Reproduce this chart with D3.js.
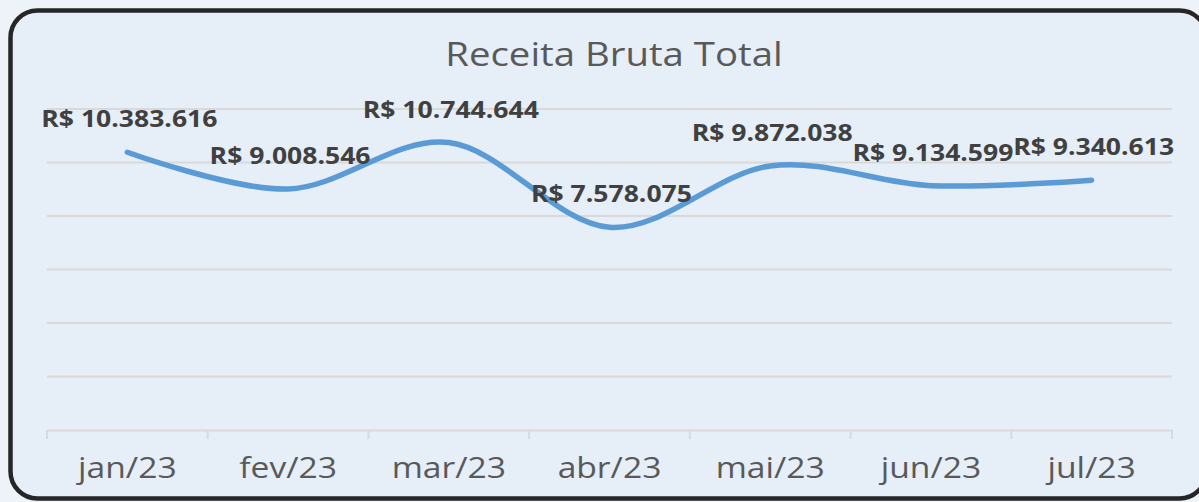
<!DOCTYPE html>
<html>
<head>
<meta charset="utf-8">
<script src="https://cdn.jsdelivr.net/npm/d3@7"></script>
<style>
  html, body { margin: 0; padding: 0; background: #eef3fa; }
  svg { display: block; }
</style>
</head>
<body>
<svg id="chart" width="1199" height="502"></svg>
<script>
const title = "Receita Bruta Total";
const categories = ["jan/23", "fev/23", "mar/23", "abr/23", "mai/23", "jun/23", "jul/23"];
const values = [10383616, 9008546, 10744644, 7578075, 9872038, 9134599, 9340613];
const yTicks = [0, 2000000, 4000000, 6000000, 8000000, 10000000, 12000000];

const W = 1199, H = 502;
const svg = d3.select("#chart");
const SX = 1.18;

// card
svg.append("rect")
  .attr("x", 10.5).attr("y", 10.5)
  .attr("width", 1196).attr("height", 488)
  .attr("rx", 27).attr("ry", 27)
  .attr("fill", "#e6eef8")
  .attr("stroke", "#262626")
  .attr("stroke-width", 4.5);

const x = d3.scaleBand().domain(categories).range([47, 1172]).padding(0);
const y = d3.scaleLinear().domain([0, 12000000]).range([430, 109]);

// gridlines
svg.append("g").selectAll("line")
  .data(yTicks.filter(d => d > 0))
  .join("line")
  .attr("x1", 47).attr("x2", 1172)
  .attr("y1", d => y(d)).attr("y2", d => y(d))
  .attr("stroke", "#d9d9d9").attr("stroke-width", 2);

// x axis
const xAxis = svg.append("g")
  .attr("transform", `translate(0,${y(0)})`)
  .call(d3.axisBottom(x).tickSize(0).tickFormat(""));
xAxis.select(".domain").attr("stroke", "#d9d9d9").attr("stroke-width", 2);
const bounds = categories.map(c => x(c)).concat([x(categories[categories.length - 1]) + x.bandwidth()]);
xAxis.selectAll(".btick").data(bounds).join("line")
  .attr("class", "btick")
  .attr("x1", d => d).attr("x2", d => d)
  .attr("y1", 0).attr("y2", 9)
  .attr("stroke", "#d9d9d9").attr("stroke-width", 2);

// category labels
svg.append("g").selectAll("text")
  .data(categories)
  .join("text")
  .attr("transform", d => `translate(${x(d) + x.bandwidth() / 2},478) scale(${SX},1)`)
  .attr("text-anchor", "middle")
  .attr("font-family", "'Open Sans', sans-serif")
  .attr("font-size", 28.5)
  .attr("fill", "#595959")
  .text(d => d);

// title
svg.append("text")
  .attr("transform", `translate(614,66) scale(${SX},1)`)
  .attr("text-anchor", "middle")
  .attr("font-family", "'Open Sans', sans-serif")
  .attr("font-size", 32.5)
  .attr("fill", "#595959")
  .text(title);

// line
const pts = categories.map((c, i) => [x(c) + x.bandwidth() / 2, y(values[i])]);
svg.append("path")
  .attr("d", d3.line().curve(d3.curveCardinal.tension(0))(pts))
  .attr("fill", "none")
  .attr("stroke", "#5b9bd5")
  .attr("stroke-width", 5.5)
  .attr("stroke-linecap", "round");

// data labels
const fmt = v => "R$ " + d3.format(",")(v).replace(/,/g, ".");
svg.append("g").selectAll("text")
  .data(values)
  .join("text")
  .attr("transform", (d, i) => `translate(${pts[i][0] + 2},${pts[i][1] - 25}) scale(${SX},1)`)
  .attr("text-anchor", "middle")
  .attr("font-family", "'Open Sans', sans-serif")
  .attr("font-weight", "bold")
  .attr("font-size", 22.5)
  .attr("fill", "#404040")
  .text(d => fmt(d));
</script>
</body>
</html>
